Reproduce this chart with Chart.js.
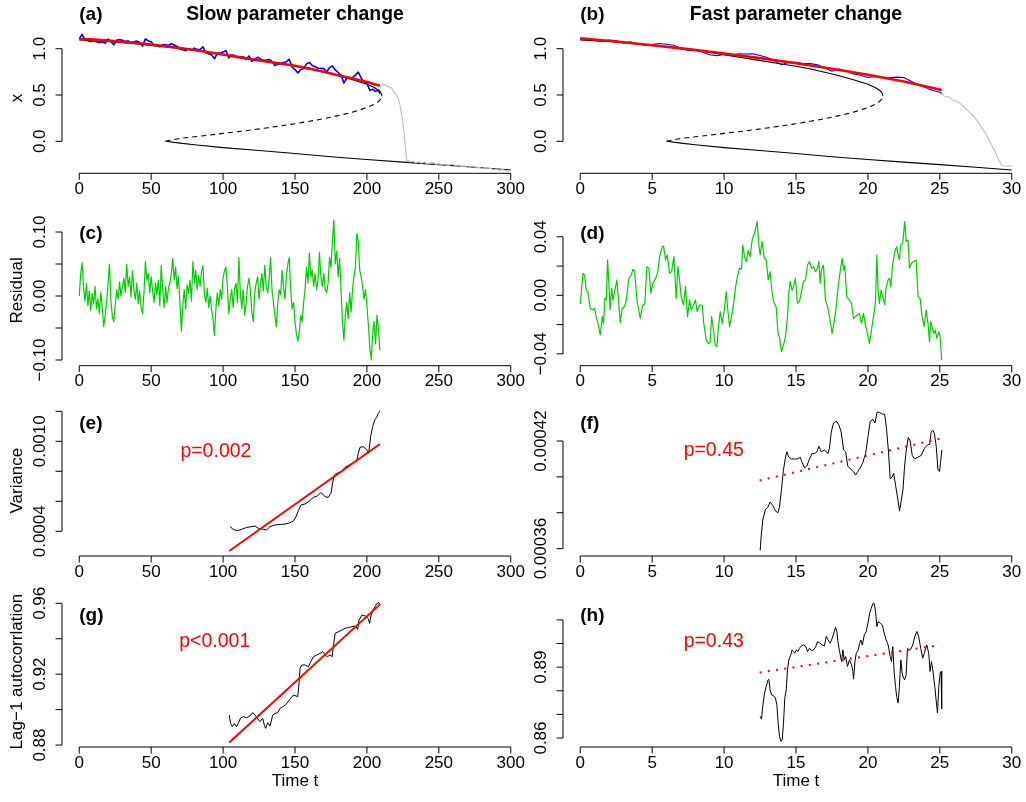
<!DOCTYPE html>
<html>
<head>
<meta charset="utf-8">
<title>Slow vs fast parameter change</title>
<script src="https://cdn.jsdelivr.net/npm/chart.js@4.4.1/dist/chart.umd.min.js"></script>
<style>
  html, body { margin: 0; padding: 0; background: #fff; width: 1026px; height: 802px; overflow: hidden; }
  canvas { position: absolute; }
</style>
</head>
<body>
<script>
/* ============================================================
   Data
   ============================================================ */

// (a) slow change: state x
const aBlueT = [0,2,4,6,8,10,12,14,16,18,20,22,24,26,28,30,32,34,36,38,40,42,44,46,48,50,52,54,56,58,60,62,64,66,68,70,72,74,76,78,80,82,84,86,88,90,92,94,96,98,100,102,104,106,108,110,112,114,116,118,120,122,124,126,128,130,132,134,136,138,140,142,144,146,148,150,152,154,156,158,160,162,164,166,168,170,172,174,176,178,180,182,184,186,188,190,192,194,196,198,200,202,204,206,208,209];
const aBlueX = [1.108,1.155,1.096,1.087,1.078,1.086,1.076,1.066,1.073,1.059,1.105,1.077,1.042,1.090,1.099,1.090,1.078,1.085,1.065,1.075,1.082,1.067,1.028,1.106,1.084,1.076,1.032,1.040,1.019,1.041,1.042,1.035,1.054,1.040,1.023,0.997,0.988,0.979,1.000,0.982,1.006,0.991,0.991,1.020,0.957,0.944,0.935,0.890,0.952,0.952,0.965,0.977,0.900,0.932,0.929,0.902,0.912,0.912,0.885,0.920,0.862,0.887,0.907,0.890,0.875,0.877,0.883,0.863,0.819,0.832,0.842,0.850,0.860,0.885,0.800,0.775,0.739,0.773,0.787,0.836,0.852,0.818,0.806,0.789,0.787,0.785,0.748,0.795,0.813,0.771,0.743,0.716,0.630,0.681,0.689,0.687,0.715,0.747,0.685,0.643,0.625,0.551,0.562,0.538,0.554,0.515];
const aRedT = [0,10,20,30,40,50,60,70,80,90,100,110,120,130,140,150,160,170,180,190,200,209];
const aRedX = [1.108,1.098,1.087,1.075,1.062,1.046,1.027,1.007,0.986,0.962,0.937,0.912,0.887,0.862,0.840,0.815,0.785,0.750,0.713,0.677,0.640,0.600];
const aStableT = [0,20,40,60,80,100,120,140,150,160,170,180,190,195,200,205,208,209.5,210.5];
const aStableX = [1.095,1.078,1.052,1.020,0.983,0.935,0.885,0.835,0.810,0.780,0.745,0.707,0.665,0.640,0.615,0.580,0.551,0.530,0.490];
const aUnstableT = [60,70,80,90,100,110,120,130,140,150,160,170,180,190,195,200,205,208,210,210.5];
const aUnstableX = [0.0,0.032,0.049,0.066,0.086,0.103,0.123,0.144,0.166,0.190,0.216,0.244,0.277,0.315,0.338,0.365,0.400,0.429,0.463,0.490];
const aLowerT = [60,70,80,100,125,150,175,200,225,250,275,300];
const aLowerX = [0.0,-0.020,-0.037,-0.068,-0.100,-0.132,-0.167,-0.197,-0.225,-0.252,-0.281,-0.310];
const aGreyT = [209,210,211,212,213,214,215,216,217,218,219,220,221,222,223,224,225,226,227,227.5,228,229,230,232,234,236,238,240,242,244,246,248,250,252,254,256,258,260,262,264,266,268,270,272,274,276,278,280,282,284,286,288,290,292,294,296,298,300];
const aGreyX = [0.58,0.60,0.62,0.60,0.615,0.59,0.595,0.575,0.58,0.55,0.535,0.51,0.49,0.45,0.39,0.30,0.20,0.06,-0.10,-0.19,-0.215,-0.205,-0.225,-0.212,-0.232,-0.22,-0.238,-0.226,-0.245,-0.236,-0.228,-0.25,-0.242,-0.258,-0.246,-0.262,-0.255,-0.248,-0.27,-0.258,-0.275,-0.266,-0.282,-0.272,-0.268,-0.29,-0.281,-0.296,-0.285,-0.3,-0.292,-0.31,-0.298,-0.316,-0.305,-0.312,-0.322,-0.315];

// (b) fast change: state x
const bBlueT = [0,0.5,1,1.5,2,2.5,3,3.5,4,4.5,5,5.5,6,6.5,7,7.5,8,8.5,9,9.5,10,10.5,11,11.5,12,12.5,13,13.5,14,14.5,15,15.5,16,16.5,17,17.5,18,18.5,19,19.5,20,20.5,21,21.5,22,22.5,23,23.5,24,24.5,25,25.13];
const bBlueX = [1.106,1.108,1.089,1.076,1.094,1.085,1.061,1.074,1.048,1.040,1.044,1.056,1.048,1.038,1.003,0.982,0.983,0.962,0.935,0.923,0.939,0.923,0.944,0.942,0.946,0.926,0.904,0.871,0.827,0.855,0.853,0.840,0.839,0.826,0.795,0.757,0.780,0.759,0.728,0.714,0.690,0.699,0.689,0.686,0.693,0.688,0.649,0.610,0.580,0.549,0.529,0.515];
const bRedT = [0,2.5,5,7.5,10,12.5,15,17.5,20,22.5,25.13];
const bRedX = [1.112,1.077,1.038,0.995,0.948,0.898,0.843,0.783,0.718,0.645,0.554];
const bStableT = [0,2,4,6,8,10,12,14,15,16,17,18,19,19.5,20,20.5,20.8,20.95,21.05];
const bStableX = [1.095,1.078,1.052,1.020,0.983,0.935,0.885,0.835,0.810,0.780,0.745,0.707,0.665,0.640,0.615,0.580,0.551,0.530,0.490];
const bUnstableT = [6,7,8,9,10,11,12,13,14,15,16,17,18,19,19.5,20,20.5,20.8,21,21.05];
const bUnstableX = [0.0,0.032,0.049,0.066,0.086,0.103,0.123,0.144,0.166,0.190,0.216,0.244,0.277,0.315,0.338,0.365,0.400,0.429,0.463,0.490];
const bLowerT = [6,7,8,10,12.5,15,17.5,20,22.5,25,27.5,30];
const bLowerX = [0.0,-0.020,-0.037,-0.068,-0.100,-0.132,-0.167,-0.197,-0.225,-0.252,-0.281,-0.310];
const bGreyT = [25.13,25.3,25.6,25.9,26.2,26.4,26.7,27.0,27.3,27.6,27.9,28.2,28.5,28.8,29.1,29.3,29.6,30];
const bGreyX = [0.515,0.49,0.48,0.447,0.43,0.41,0.37,0.32,0.28,0.22,0.15,0.08,-0.01,-0.10,-0.20,-0.26,-0.27,-0.265];

// (c) residuals, slow change
const cT = [0,1,2,3,4,5,6,7,8,9,10,11,12,13,14,15,16,17,18,19,20,21,22,23,24,25,26,27,28,29,30,31,32,33,34,35,36,37,38,39,40,41,42,43,44,45,46,47,48,49,50,51,52,53,54,55,56,57,58,59,60,61,62,63,64,65,66,67,68,69,70,71,72,73,74,75,76,77,78,79,80,81,82,83,84,85,86,87,88,89,90,91,92,93,94,95,96,97,98,99,100,101,102,103,104,105,106,107,108,109,110,111,112,113,114,115,116,117,118,119,120,121,122,123,124,125,126,127,128,129,130,131,132,133,134,135,136,137,138,139,140,141,142,143,144,145,146,147,148,149,150,151,152,153,154,155,156,157,158,159,160,161,162,163,164,165,166,167,168,169,170,171,172,173,174,175,176,177,178,179,180,181,182,183,184,185,186,187,188,189,190,191,192,193,194,195,196,197,198,199,200,201,202,203,204,205,206,207,208,209];
const cRes = [
  0.000,0.036,0.052,0.012,-0.008,0.020,-0.015,0.008,-0.022,0.004,
  -0.012,0.015,-0.020,-0.005,-0.028,0.006,-0.018,-0.048,-0.030,-0.010,
  0.018,0.050,-0.008,-0.032,-0.040,-0.015,0.010,-0.005,0.022,0.000,
  0.015,0.028,0.006,0.050,0.015,0.030,-0.002,0.040,0.010,-0.005,
  0.020,-0.012,0.008,-0.018,-0.028,0.005,0.054,0.025,0.035,0.005,
  0.030,0.008,-0.010,0.020,0.002,0.025,-0.015,0.048,0.010,-0.018,
  0.015,-0.010,0.012,0.020,0.035,0.059,0.025,0.045,0.012,0.030,
  -0.010,-0.055,-0.015,0.010,-0.020,0.018,0.005,0.025,-0.008,0.054,
  0.020,0.040,0.010,0.032,0.015,0.038,0.048,0.005,-0.010,0.012,
  -0.018,0.000,-0.022,-0.035,-0.062,-0.020,0.005,-0.015,0.010,-0.005,
  0.028,0.040,0.045,0.015,-0.027,-0.005,0.010,-0.018,0.012,0.020,
  -0.010,0.060,0.005,-0.020,0.010,-0.030,-0.012,0.015,0.028,0.008,
  -0.025,-0.040,0.005,0.020,0.030,-0.005,0.018,0.035,0.008,0.048,
  0.015,0.005,0.025,0.060,0.010,-0.010,-0.030,-0.048,-0.012,0.010,
  0.002,0.040,0.015,-0.005,0.030,0.050,0.060,0.010,-0.020,-0.010,
  -0.040,-0.060,-0.070,-0.055,-0.030,-0.040,-0.010,0.010,0.045,0.020,
  0.067,0.030,0.040,0.015,0.035,0.010,0.025,0.068,0.030,0.015,
  0.035,0.010,0.005,0.020,0.060,0.045,0.085,0.119,0.050,0.070,
  0.030,0.059,0.010,-0.040,-0.069,-0.030,-0.010,-0.035,0.005,-0.025,
  0.010,0.030,0.045,0.098,0.085,0.040,0.030,0.015,-0.005,0.010,
  -0.015,-0.045,-0.080,-0.100,-0.060,-0.040,-0.075,-0.030,-0.050,-0.085
];

// (d) residuals, fast change
const dT = [0.00,0.19,0.30,0.42,0.53,0.69,0.88,1.00,1.11,1.23,1.39,1.53,1.62,1.71,1.81,1.90,2.08,2.18,2.27,2.39,2.55,2.78,2.92,3.08,3.20,3.38,3.54,3.66,3.78,3.94,4.17,4.35,4.49,4.63,4.77,4.91,5.05,5.24,5.40,5.51,5.70,5.79,5.93,6.05,6.21,6.35,6.51,6.67,6.79,6.90,7.02,7.18,7.32,7.46,7.60,7.71,7.88,8.01,8.13,8.29,8.48,8.59,8.76,8.90,9.03,9.13,9.27,9.38,9.50,9.61,9.73,9.87,10.03,10.15,10.26,10.38,10.52,10.68,10.80,10.93,11.07,11.21,11.30,11.42,11.54,11.68,11.81,11.95,12.11,12.30,12.42,12.51,12.65,12.79,12.93,13.07,13.20,13.30,13.44,13.62,13.76,13.85,13.99,14.13,14.27,14.41,14.50,14.59,14.73,14.83,14.96,15.10,15.24,15.38,15.52,15.66,15.80,15.94,16.08,16.22,16.35,16.49,16.59,16.68,16.77,16.91,17.05,17.19,17.33,17.51,17.65,17.79,17.93,18.07,18.21,18.30,18.39,18.53,18.72,18.86,19.00,19.13,19.27,19.41,19.55,19.69,19.83,20.01,20.11,20.25,20.39,20.53,20.62,20.71,20.80,20.92,21.03,21.17,21.26,21.40,21.50,21.59,21.73,21.87,22.00,22.10,22.19,22.28,22.42,22.56,22.66,22.79,22.89,23.03,23.16,23.35,23.49,23.63,23.77,23.91,24.05,24.18,24.28,24.37,24.51,24.60,24.69,24.79,24.93,25.02,25.13];
const dRes = [-0.0059,0.0150,0.0139,0.0036,0.0025,-0.0089,-0.0100,-0.0089,-0.0146,-0.0192,-0.0271,-0.0146,-0.0192,-0.0021,-0.0032,0.0242,-0.0096,0.0048,-0.0032,0.0025,0.0105,-0.0187,-0.0089,-0.0078,-0.0032,0.0116,0.0139,0.0178,0.0166,-0.0032,-0.0157,-0.0066,-0.0059,0.0196,0.0185,0.0014,0.0082,0.0116,0.0162,0.0264,0.0333,0.0337,0.0242,0.0276,0.0150,0.0162,0.0264,-0.0021,0.0196,0.0105,-0.0009,-0.0066,0.0059,-0.0146,-0.0032,-0.0100,-0.0066,-0.0032,-0.0112,-0.0066,-0.0066,-0.0192,-0.0306,-0.0328,-0.0324,-0.0146,-0.0237,-0.0340,-0.0351,-0.0214,-0.0112,-0.0192,-0.0089,0.0025,-0.0100,-0.0214,-0.0146,-0.0043,0.0059,0.0128,0.0185,0.0178,0.0344,0.0264,0.0230,0.0306,0.0264,0.0378,0.0424,0.0504,0.0344,0.0276,0.0367,0.0253,0.0242,0.0105,0.0162,0.0048,-0.0043,-0.0078,-0.0271,-0.0283,-0.0385,-0.0340,-0.0283,-0.0146,0.0014,0.0093,0.0036,0.0059,0.0116,-0.0055,-0.0043,0.0025,0.0093,0.0105,0.0207,0.0230,0.0185,0.0196,0.0162,0.0185,0.0230,0.0082,0.0173,0.0207,-0.0032,-0.0078,-0.0146,-0.0260,-0.0180,-0.0089,0.0059,0.0162,0.0253,0.0173,0.0207,-0.0009,-0.0032,-0.0055,-0.0157,-0.0146,-0.0135,-0.0123,-0.0192,-0.0123,-0.0203,-0.0283,-0.0328,-0.0237,-0.0146,-0.0043,0.0276,0.0036,-0.0055,0.0036,-0.0009,-0.0066,0.0048,0.0105,0.0116,0.0059,0.0219,0.0299,0.0333,0.0276,0.0242,0.0344,0.0356,0.0504,0.0367,0.0378,0.0185,0.0219,0.0230,0.0242,-0.0009,-0.0021,-0.0146,-0.0214,-0.0100,-0.0192,-0.0317,-0.0180,-0.0237,-0.0260,-0.0237,-0.0294,-0.0249,-0.0283,-0.0442];

// (e) rolling variance, slow change
const eT = [104.8,107.1,109.9,112.9,116.4,119.9,122.2,124.5,128,130.3,132.6,136.1,139.6,143,146.5,148.8,150.7,152.3,154.2,157,160,162.7,165.5,167.8,169.2,170.8,173.1,175,176.1,177.3,180,182.4,184.7,187.7,190.5,192.8,194,195.2,197.5,199.8,201.2,202.6,204,205.6,206.8,207.9,209.1];
const eVar = [0.000431,0.000413,0.000404,0.000413,0.000426,0.000431,0.000435,0.000420,0.000413,0.000409,0.000431,0.000442,0.000446,0.000448,0.000457,0.000468,0.000497,0.000537,0.000575,0.000582,0.000602,0.000626,0.000635,0.000657,0.000648,0.000631,0.000626,0.000653,0.000720,0.000775,0.000791,0.000797,0.000826,0.000842,0.000857,0.000864,0.000920,0.000960,0.000964,0.000946,0.000920,0.001031,0.001098,0.001146,0.001160,0.001186,0.001204];
const eFitT = [104.3,209.1];
const eFitV = [0.000269,0.000982];

// (f) rolling variance, fast change
const fT = [12.51,12.58,12.69,12.88,13.04,13.2,13.39,13.57,13.74,13.85,13.99,14.13,14.27,14.36,14.5,14.68,14.89,15.13,15.29,15.43,15.59,15.75,15.94,16.12,16.29,16.45,16.59,16.75,16.98,17.22,17.33,17.45,17.61,17.8,17.98,18.14,18.31,18.45,18.6,18.84,19.0,19.14,19.3,19.47,19.65,19.84,20.0,20.16,20.35,20.49,20.63,20.81,21.0,21.16,21.28,21.42,21.55,21.69,21.79,21.93,22.09,22.2,22.32,22.44,22.55,22.67,22.81,22.94,23.08,23.24,23.48,23.71,23.94,24.17,24.29,24.4,24.52,24.63,24.75,24.87,24.98,25.05,25.14];
const fVar = [0.000359,0.000367,0.000376,0.000382,0.000383,0.000386,0.000384,0.000381,0.000380,0.000383,0.000393,0.000404,0.000411,0.000414,0.000411,0.000410,0.000410,0.000410,0.000411,0.000408,0.000405,0.000406,0.000410,0.000413,0.000413,0.000414,0.000417,0.000414,0.000415,0.000413,0.000416,0.000425,0.000430,0.000431,0.000429,0.000425,0.000415,0.000414,0.000406,0.000404,0.000403,0.000401,0.000403,0.000405,0.000408,0.000413,0.000422,0.000431,0.000432,0.000430,0.000436,0.000436,0.000435,0.000435,0.000428,0.000415,0.000399,0.000400,0.000402,0.000395,0.000387,0.000381,0.000387,0.000393,0.000406,0.000415,0.000422,0.000420,0.000412,0.000410,0.000411,0.000412,0.000416,0.000418,0.000418,0.000425,0.000426,0.000424,0.000417,0.000404,0.000403,0.000408,0.000415];
const fFitT = [12.47,25.02];
const fFitV = [0.000398,0.0004213];

// (g) lag-1 autocorrelation, slow change
const gT = [104.3,105.2,106.4,107.8,109.4,111.1,112.2,114.1,116.4,118.7,120.6,122.2,123.8,125.7,127.5,128.7,129.6,131,132.6,134.5,136.1,138,139.6,141.5,143.3,145.2,147,148.9,150.7,151.9,152.8,153.5,154.7,157,159.3,161,162.8,165.1,167.5,169.3,170.9,172.6,174.4,175.8,176.8,177.9,180.3,182.6,184.9,187.3,189.6,191.9,193.5,194.5,196.6,198.9,200.8,201.9,202.9,204.3,205.9,207.1,208.2,209.4];
const gAcf = [0.8970,0.8922,0.8904,0.8922,0.8904,0.8932,0.8954,0.8960,0.8954,0.8964,0.8983,0.8969,0.8951,0.8932,0.8951,0.8913,0.8894,0.8926,0.8907,0.8969,0.8979,0.8983,0.9007,0.9016,0.9026,0.9045,0.9064,0.9082,0.9077,0.9073,0.9148,0.9233,0.9252,0.9252,0.9242,0.9271,0.9299,0.9308,0.9318,0.9327,0.9308,0.9299,0.9308,0.9299,0.9365,0.9431,0.9440,0.9449,0.9459,0.9464,0.9468,0.9472,0.9453,0.9506,0.9534,0.9528,0.9515,0.9487,0.9534,0.9562,0.9585,0.9600,0.9604,0.9591];
const gFitT = [104.3,209.1];
const gFitV = [0.8815,0.9594];

// (h) lag-1 autocorrelation, fast change
const hT = [12.51,12.6,12.69,12.81,12.93,13.04,13.11,13.2,13.3,13.44,13.57,13.67,13.76,13.85,13.95,14.04,14.13,14.22,14.32,14.41,14.5,14.64,14.73,14.83,14.92,15.01,15.13,15.24,15.38,15.52,15.66,15.8,15.94,16.08,16.22,16.36,16.49,16.63,16.82,16.98,17.1,17.24,17.38,17.52,17.66,17.75,17.84,17.93,18.03,18.17,18.26,18.35,18.45,18.58,18.72,18.86,18.96,19.0,19.1,19.19,19.33,19.42,19.51,19.61,19.75,19.88,20.0,20.12,20.23,20.35,20.44,20.53,20.62,20.72,20.86,21.0,21.13,21.27,21.41,21.55,21.64,21.73,21.83,21.92,22.0,22.1,22.19,22.29,22.38,22.47,22.56,22.66,22.75,22.84,22.98,23.12,23.26,23.4,23.53,23.67,23.81,23.95,24.09,24.23,24.32,24.42,24.51,24.65,24.74,24.84,24.93,25.02,25.09,25.13];
const hAcf = [0.8692,0.8680,0.8734,0.8790,0.8818,0.8844,0.8849,0.8804,0.8783,0.8779,0.8769,0.8741,0.8663,0.8607,0.8586,0.8593,0.8663,0.8769,0.8804,0.8889,0.8931,0.8952,0.8973,0.8966,0.8959,0.8973,0.8966,0.8980,0.8990,0.8994,0.8990,0.8966,0.8980,0.8970,0.8973,0.8985,0.9008,0.9004,0.8994,0.8990,0.9030,0.9015,0.9001,0.9023,0.9051,0.9069,0.9051,0.9001,0.8966,0.8924,0.8973,0.8931,0.8945,0.8903,0.8931,0.8910,0.8882,0.8849,0.8924,0.8959,0.8973,0.9001,0.9015,0.8994,0.9037,0.9051,0.9086,0.9128,0.9149,0.9170,0.9170,0.9135,0.9072,0.9093,0.9086,0.9079,0.9044,0.9015,0.8994,0.8945,0.8924,0.8987,0.8875,0.8818,0.8776,0.8748,0.8818,0.8931,0.8875,0.8854,0.8846,0.8868,0.8980,0.8973,0.8976,0.8994,0.9030,0.9051,0.9030,0.8980,0.8938,0.8966,0.8994,0.8959,0.8882,0.8924,0.8889,0.8818,0.8762,0.8706,0.8818,0.8875,0.8882,0.8723];
const hFitT = [12.47,24.63];
const hFitV = [0.8877,0.8990];

// axis ticks
const slowTicks = [0,50,100,150,200,250,300];
const fastTicks = [0,5,10,15,20,25,30];

/* ============================================================
   R-like look: axes, labels, titles drawn through the scales
   ============================================================ */
const FONT = '"Liberation Sans", Arial, Helvetica, sans-serif';
const TICK = 6.5;

const rStyle = {
  id: 'rStyle',
  afterDraw(chart, args, o) {
    const ctx = chart.ctx;
    const a = chart.chartArea;
    const xs = chart.scales.x, ys = chart.scales.y;
    ctx.save();
    ctx.strokeStyle = '#000';
    ctx.fillStyle = '#000';
    ctx.lineWidth = 1;

    // x axis along the bottom of the plot region
    const xt = o.xTicks;
    ctx.beginPath();
    ctx.moveTo(xs.getPixelForValue(xt[0]), a.bottom);
    ctx.lineTo(xs.getPixelForValue(xt[xt.length - 1]), a.bottom);
    xt.forEach(v => {
      const p = xs.getPixelForValue(v);
      ctx.moveTo(p, a.bottom);
      ctx.lineTo(p, a.bottom + TICK);
    });
    ctx.stroke();
    ctx.font = '17px ' + FONT;
    ctx.textAlign = 'center';
    ctx.textBaseline = 'middle';
    xt.forEach(v => ctx.fillText(String(v), xs.getPixelForValue(v), a.bottom + 16));

    // y axis along the left edge, labels parallel to the axis
    const yt = o.yTicks;
    ctx.beginPath();
    ctx.moveTo(a.left, ys.getPixelForValue(yt[0]));
    ctx.lineTo(a.left, ys.getPixelForValue(yt[yt.length - 1]));
    yt.forEach(v => {
      const p = ys.getPixelForValue(v);
      ctx.moveTo(a.left, p);
      ctx.lineTo(a.left - TICK, p);
    });
    ctx.stroke();
    yt.forEach((v, i) => {
      const lbl = o.yLabels[i];
      if (!lbl) return;
      ctx.save();
      ctx.translate(a.left - 21.5, ys.getPixelForValue(v));
      ctx.rotate(-Math.PI / 2);
      ctx.fillText(lbl, 0, 0);
      ctx.restore();
    });

    // axis titles
    if (o.yTitle) {
      ctx.save();
      ctx.translate(a.left - 44.5, (a.top + a.bottom) / 2);
      ctx.rotate(-Math.PI / 2);
      ctx.fillText(o.yTitle, 0, 0);
      ctx.restore();
    }
    if (o.xTitle) {
      ctx.fillText(o.xTitle, (a.left + a.right) / 2, a.bottom + 34);
    }

    // panel title and letter
    if (o.title) {
      ctx.font = 'bold 19.4px ' + FONT;
      ctx.fillText(o.title, (a.left + a.right) / 2, a.top + o.letterDy);
    }
    ctx.font = 'bold 19px ' + FONT;
    ctx.textAlign = 'left';
    ctx.fillText(o.letter, xs.getPixelForValue(0), a.top + o.letterDy);

    // p-value annotation
    if (o.pText) {
      ctx.font = '19.5px ' + FONT;
      ctx.fillStyle = '#ff0000';
      ctx.textAlign = 'center';
      ctx.fillText(o.pText.label, xs.getPixelForValue(o.pText.x), ys.getPixelForValue(o.pText.y));
    }
    ctx.restore();
  }
};

/* ============================================================
   Helpers
   ============================================================ */
function pts(xs, ys) {
  const n = Math.min(xs.length, ys.length);
  const out = [];
  for (let i = 0; i < n; i++) out.push({ x: xs[i], y: ys[i] });
  return out;
}

function series(xs, ys, color, width, dash) {
  return {
    data: pts(xs, ys),
    borderColor: color,
    borderWidth: width,
    borderDash: dash || [],
    borderCapStyle: 'butt',
    borderJoinStyle: 'round',
    pointRadius: 0,
    pointHoverRadius: 0,
    fill: false,
    tension: 0
  };
}

const ROW_TOP = [0, 200, 393, 585];
const ROW_H   = [200, 193, 192, 217];
const ROW_PAD = [[22.6, 26.7], [15, 27.3], [12.3, 29], [11.3, 55]];
const COL_LEFT = [0, 530];
const COL_W    = [530, 510];
const COL_PAD  = [[62, 2], [33, 11]];

function makePanel(p) {
  const c = document.createElement('canvas');
  c.width = COL_W[p.col];
  c.height = ROW_H[p.row];
  c.style.left = COL_LEFT[p.col] + 'px';
  c.style.top = ROW_TOP[p.row] + 'px';
  c.style.width = COL_W[p.col] + 'px';
  c.style.height = ROW_H[p.row] + 'px';
  document.body.appendChild(c);

  const slow = p.col === 0;
  return new Chart(c, {
    type: 'line',
    data: { datasets: p.datasets },
    options: {
      responsive: false,
      animation: false,
      events: [],
      layout: {
        autoPadding: false,
        padding: {
          left: COL_PAD[p.col][0], right: COL_PAD[p.col][1],
          top: ROW_PAD[p.row][0], bottom: ROW_PAD[p.row][1]
        }
      },
      scales: {
        x: { type: 'linear', display: false, min: slow ? -12 : -1.2, max: slow ? 312 : 31.2 },
        y: { type: 'linear', display: false, min: p.yMin, max: p.yMax }
      },
      plugins: {
        legend: { display: false },
        tooltip: { enabled: false },
        rStyle: Object.assign({ xTicks: slow ? slowTicks : fastTicks }, p.deco)
      }
    },
    plugins: [rStyle]
  });
}

const BLUE = '#0000ff', RED = '#ff0000', GREEN = '#00cd00', GREY = '#bebebe', BLACK = '#000000';
const M = '\u2212';

/* ============================================================
   Panels
   ============================================================ */
makePanel({
  col: 0, row: 0, yMin: -0.3456, yMax: 1.2818,
  datasets: [
    series(aRedT, aRedX, RED, 2.6),
    series(aStableT, aStableX, BLACK, 1.1),
    series(aBlueT, aBlueX, BLUE, 1.6),
    series(aGreyT, aGreyX, GREY, 1.1),
    series(aUnstableT, aUnstableX, BLACK, 1.1, [5, 4]),
    series(aLowerT, aLowerX, BLACK, 1.1)
  ],
  deco: { yTicks: [0, 0.5, 1], yLabels: ['0.0', '0.5', '1.0'], yTitle: 'x',
          title: 'Slow parameter change', letter: '(a)', letterDy: -7.6 }
});

makePanel({
  col: 1, row: 0, yMin: -0.3456, yMax: 1.2818,
  datasets: [
    series(bRedT, bRedX, RED, 2.6),
    series(bBlueT, bBlueX, BLUE, 1.1),
    series(bStableT, bStableX, BLACK, 1.1),
    series(bGreyT, bGreyX, GREY, 1.1),
    series(bUnstableT, bUnstableX, BLACK, 1.1, [5, 4]),
    series(bLowerT, bLowerX, BLACK, 1.1)
  ],
  deco: { yTicks: [0, 0.5, 1], yLabels: ['0.0', '0.5', '1.0'],
          title: 'Fast parameter change', letter: '(b)', letterDy: -7.6 }
});

makePanel({
  col: 0, row: 1, yMin: -0.1089, yMax: 0.1266,
  datasets: [ series(cT, cRes, GREEN, 1.2) ],
  deco: { yTicks: [-0.1, -0.05, 0, 0.05, 0.1], yLabels: [M + '0.10', '', '0.00', '', '0.10'],
          yTitle: 'Residual', letter: '(c)', letterDy: 18.3 }
});

makePanel({
  col: 1, row: 1, yMin: -0.0481, yMax: 0.0549,
  datasets: [ series(dT, dRes, GREEN, 1.2) ],
  deco: { yTicks: [-0.04, -0.02, 0, 0.02, 0.04], yLabels: [M + '0.04', '', '0.00', '', '0.04'],
          letter: '(d)', letterDy: 18.3 }
});

makePanel({
  col: 0, row: 2, yMin: 0.0002353, yMax: 0.00124,
  datasets: [
    series(eFitT, eFitV, RED, 2),
    series(eT, eVar, BLACK, 1)
  ],
  deco: { yTicks: [0.0004, 0.0006, 0.0008, 0.0010, 0.0012], yLabels: ['0.0004', '', '', '0.0010', ''],
          yTitle: 'Variance', letter: '(e)', letterDy: 18.7,
          pText: { x: 95, y: 0.000931, label: 'p=0.002' } }
});

makePanel({
  col: 1, row: 2, yMin: 0.0003559, yMax: 0.0004399,
  datasets: [
    series(fFitT, fFitV, RED, 2, [2, 6.3]),
    series(fT, fVar, BLACK, 1)
  ],
  deco: { yTicks: [0.00036, 0.00038, 0.00040, 0.00042], yLabels: ['0.00036', '', '', '0.00042'],
          letter: '(f)', letterDy: 18.7,
          pText: { x: 9.28, y: 0.0004146, label: 'p=0.45' } }
});

makePanel({
  col: 0, row: 3, yMin: 0.8789, yMax: 0.96396,
  datasets: [
    series(gFitT, gFitV, RED, 2),
    series(gT, gAcf, BLACK, 1)
  ],
  deco: { yTicks: [0.88, 0.90, 0.92, 0.94, 0.96], yLabels: ['0.88', '', '0.92', '', '0.96'],
          yTitle: 'Lag' + M + '1 autocorrlation', xTitle: 'Time t', letter: '(g)', letterDy: 19.7,
          pText: { x: 94.2, y: 0.9383, label: 'p<0.001' } }
});

makePanel({
  col: 1, row: 3, yMin: 0.8562, yMax: 0.92,
  datasets: [
    series(hFitT, hFitV, RED, 2, [2, 6.3]),
    series(hT, hAcf, BLACK, 1)
  ],
  deco: { yTicks: [0.86, 0.87, 0.88, 0.89, 0.90, 0.91], yLabels: ['0.86', '', '', '0.89', '', ''],
          xTitle: 'Time t', letter: '(h)', letterDy: 19.7,
          pText: { x: 9.28, y: 0.9008, label: 'p=0.43' } }
});
</script>
</body>
</html>
